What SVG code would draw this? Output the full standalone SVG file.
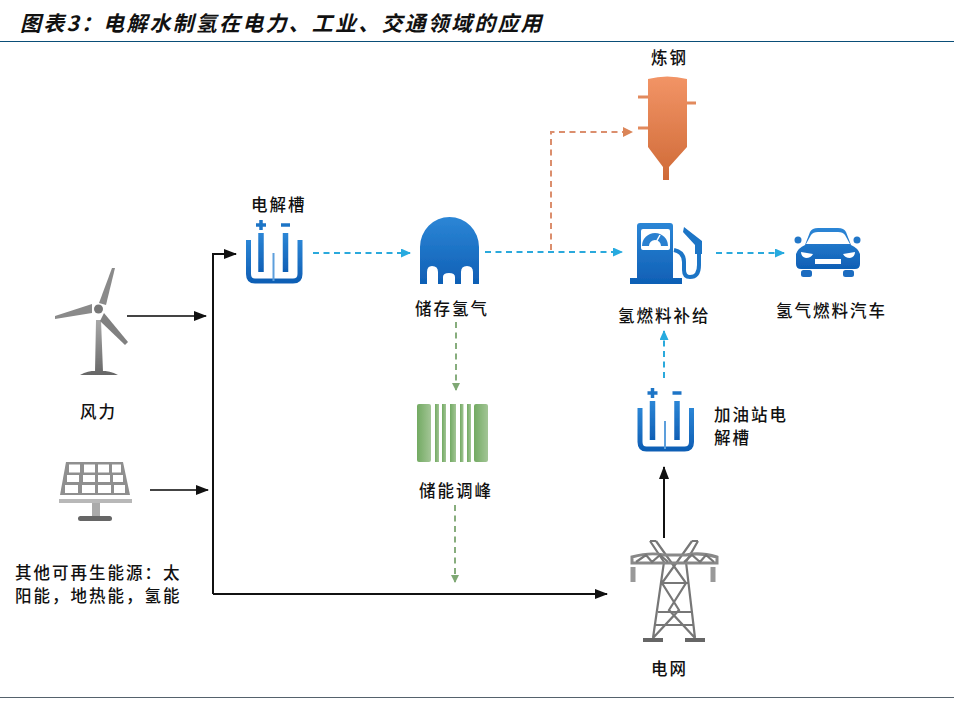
<svg xmlns="http://www.w3.org/2000/svg" width="979" height="704" viewBox="0 0 979 704">
<style>
.t{font-family:"Noto Sans CJK SC","Noto Sans CJK JP",sans-serif;font-size:16.5px;font-weight:500;fill:#111;letter-spacing:2px}
.title{font-family:"Noto Sans CJK SC","Liberation Sans",sans-serif;font-size:21px;font-weight:700;font-style:italic;fill:#111;letter-spacing:2.2px}
.dash{fill:none;stroke-width:2;stroke-dasharray:6 4.5}
.blue{stroke:#2aa9dc}.org{stroke:#db8e6d}.grn{stroke:#87ad7d}
.solid{fill:none;stroke:#111;stroke-width:2}
.src{fill:none;stroke:#444;stroke-width:2}
.wire{fill:none;stroke:#777;stroke-width:2.200}
</style>
<defs>
<linearGradient id="gb" x1="0" y1="0" x2="0" y2="1"><stop offset="0" stop-color="#2c86d6"/><stop offset="1" stop-color="#0f5fb5"/></linearGradient>
<linearGradient id="go" x1="0" y1="0" x2="0" y2="1"><stop offset="0" stop-color="#f29466"/><stop offset="1" stop-color="#cf6a37"/></linearGradient>
<linearGradient id="gg" x1="0" y1="0" x2="1" y2="0"><stop offset="0" stop-color="#72aa62"/><stop offset="1" stop-color="#a3c596"/></linearGradient>
<linearGradient id="gy" x1="0" y1="0" x2="0" y2="1"><stop offset="0" stop-color="#a8a8a8"/><stop offset="1" stop-color="#666"/></linearGradient>
<filter id="s" x="-10%" y="-10%" width="120%" height="120%"><feGaussianBlur stdDeviation="0.7"/></filter>
<marker id="ab" markerWidth="10" markerHeight="9" refX="9" refY="4.500" orient="auto" markerUnits="userSpaceOnUse"><path d="M0 0L10 4.500L0 9z" fill="#27aadf"/></marker>
<marker id="ao" markerWidth="10" markerHeight="10" refX="9" refY="5" orient="auto" markerUnits="userSpaceOnUse"><path d="M0 0L10 5L0 10z" fill="#db8558"/></marker>
<marker id="ag" markerWidth="8" markerHeight="8" refX="7" refY="4" orient="auto" markerUnits="userSpaceOnUse"><path d="M0 0L8 4L0 8z" fill="#7fa874"/></marker>
<marker id="ak" markerWidth="13" markerHeight="10" refX="12" refY="5" orient="auto" markerUnits="userSpaceOnUse"><path d="M0 0L13 5L0 10z" fill="#111"/></marker>
<g id="cell" filter="url(#s)">
<path d="M2.500 15V49Q2.500 56 9 56H47Q54 56 54 49V15" fill="none" stroke="url(#gb)" stroke-width="5"/>
<path d="M27.500 28V56" stroke="#5d9fdc" stroke-width="2"/>
<path d="M15 8V47M39.500 8V47" stroke="url(#gb)" stroke-width="5.500"/>
<path d="M15 -5V5M10 0H20M35 0H44" stroke="#1f74c6" stroke-width="3.500"/>
</g>
</defs>
<rect width="979" height="704" fill="#fff"/>
<g id="title"><text class="title" x="20" y="31">图表3&#xFF1A;<tspan x="103">电解水制氢在电力、工业、交通领域的应用</tspan></text>
<path d="M0 41.500H954" stroke="#0a4e78" stroke-width="1"/></g>
<path id="footer-rule" d="M0 697.500H954" stroke="#55626c" stroke-width="1"/>
<g id="connectors">
<path class="dash blue" d="M313 253H410" marker-end="url(#ab)"/>
<path class="dash blue" d="M485 252H622" marker-end="url(#ab)"/>
<path class="dash blue" d="M716 253H784" marker-end="url(#ab)"/>
<path class="dash blue" d="M664 378V331" marker-end="url(#ab)"/>
<path class="dash org" d="M551 250V132H632" marker-end="url(#ao)"/>
<path class="dash grn" d="M456 322V390" marker-end="url(#ag)"/>
<path class="dash grn" d="M455 505V582" marker-end="url(#ag)"/>
<path class="src" d="M127 316H206" marker-end="url(#ak)"/>
<path class="src" d="M150 490H208" marker-end="url(#ak)"/>
<path class="solid" d="M213 594V254H236" marker-end="url(#ak)"/>
<path class="solid" d="M213 594H607" marker-end="url(#ak)"/>
<path class="solid" d="M664 538V467" marker-end="url(#ak)"/>
</g>
<g id="node-steel"><g filter="url(#s)">
<path d="M648 79Q667 74 687 79V147L669 167V180H663V167L648 147Z" fill="url(#go)"/>
<path d="M638 97H648M687 103H696M638 128H648" stroke="#e28a5d" stroke-width="3"/></g>
<text class="t" x="651" y="64">炼钢</text></g>
<g id="node-cell"><use href="#cell" x="246" y="225"/><text class="t" x="251" y="211">电解槽</text></g>
<g id="node-storage"><g filter="url(#s)">
<path d="M420 284V247A29.500 30 0 0 1 479 247V284H473V272Q473 266 467 266Q461 266 461 272V284H455V277Q455 273 449 273Q443 273 443 277V284H438V272Q438 266 432 266Q427 266 427 272V284Z" fill="url(#gb)"/></g>
<text class="t" x="415" y="315">储存氢气</text></g>
<g id="node-pump"><g filter="url(#s)">
<path d="M640 223H670Q673 223 673 226V278H682V284H630V278H637V226Q637 223 640 223Z" fill="url(#gb)"/>
<rect x="641" y="229" width="29" height="21" rx="2" fill="#fff"/>
<path d="M642 246A13 13 0 0 1 668 246H661A6 6 0 0 0 649 246Z" fill="#2b80d0"/>
<path d="M654 246L660 235" stroke="#fff" stroke-width="1.500"/>
<path d="M674 250Q684 252 684 262V270Q684 277 690 277Q699 277 699 265V245" fill="none" stroke="#1f74c6" stroke-width="4"/>
<path d="M684 227L702 241V254L695 254V245L683 232Z" fill="#1f74c6"/></g>
<text class="t" x="618" y="322">氢燃料补给</text></g>
<g id="node-car"><g filter="url(#s)">
<path d="M796 254Q798 248 805 245L810 232Q812 228 818 228H838Q844 228 846 232L851 245Q858 248 860 254V264Q860 269 855 269H801Q796 269 796 264Z" fill="url(#gb)"/>
<rect x="801" y="270" width="11" height="7" rx="2.500" fill="#1a6cc0"/><rect x="843" y="270" width="11" height="7" rx="2.500" fill="#1a6cc0"/>
<circle cx="798" cy="240" r="3.500" fill="#2077c8"/><circle cx="857" cy="240" r="3.500" fill="#2077c8"/>
<path d="M806 244L811 235Q813 232 818 232H838Q843 232 845 235L850 244Z" fill="#fff"/>
<path d="M801 252L813 254Q811 258 806 258Q801 257 801 252ZM855 252L843 254Q845 258 850 258Q855 257 855 252ZM815 259H841V264H815Z" fill="#fff"/></g>
<text class="t" x="776" y="317">氢气燃料汽车</text></g>
<g id="node-wind"><g filter="url(#s)">
<path d="M96 320L101 320L103 372H95ZM80 375Q90 370 98 371Q108 370 118 375Z" fill="url(#gy)"/>
<circle cx="98.500" cy="309" r="4.500" fill="#777"/>
<path d="M99 303L112 268L115 268L106 305Z" fill="#8a8a8a"/>
<path d="M92 304L55 316L55 319L92 313Z" fill="#8a8a8a"/>
<path d="M104 313L128 342L125 345L100 321Z" fill="#808080"/></g>
<text class="t" x="80" y="418">风力</text></g>
<g id="node-solar"><g filter="url(#s)">
<path d="M66 462H123L130 495H60Z" fill="#8f8f8f"/>
<path d="M69 464.500h11v8h-11zM84 464.500h11v8h-11zM98 464.500h11v8h-11zM112 464.500h9v8h-9zM67 475h12v7h-12zM83 475h12v7h-12zM98 475h12v7h-12zM113 475h10v7h-10zM65 485h13v8h-13zM82 485h13v8h-13zM98 485h13v8h-13zM114 485h11v8h-11z" fill="#fff"/>
<rect x="59" y="499" width="73" height="4" fill="#b8b8b8"/>
<rect x="92" y="503" width="8" height="14" fill="#aaa"/>
<rect x="78" y="516" width="34" height="5" rx="2.500" fill="#666"/></g>
<text class="t" x="15" y="579">其他可再生能源&#xFF1A;太</text>
<text class="t" x="15" y="602">阳能&#xFF0C;地热能&#xFF0C;氢能</text></g>
<g id="node-battery"><g filter="url(#s)" fill="url(#gg)">
<rect x="417" y="404" width="14" height="58" rx="2"/><rect x="435" y="404" width="4" height="58"/><rect x="442" y="404" width="4" height="58"/><rect x="450" y="404" width="6" height="58"/><rect x="460" y="404" width="3.500" height="58"/><rect x="467" y="404" width="4" height="58"/><rect x="474" y="404" width="14" height="58" rx="2"/></g>
<text class="t" x="419" y="497">储能调峰</text></g>
<g id="node-cell2"><use href="#cell" x="637.500" y="393"/>
<text class="t" x="714" y="421">加油站电</text><text class="t" x="714" y="444">解槽</text></g>
<g id="node-grid"><g filter="url(#s)">
<path class="wire" d="M650 541L664 562L653 638M698 541L686 562L695 638M650 541L656 541M698 541L692 541M656 541L686 583L669 610L695 638M692 541L662 583L679 610L653 638M660 583H688M658 612H691M655 625H693M664 563H686"/>
<path d="M632 557Q650 552 664 555H686Q700 552 717 557V563H632Z" fill="none" stroke="#888" stroke-width="3"/>
<path class="wire" d="M636 562L646 555L652 562L660 555L668 562M684 562L692 555L700 562L706 555L714 562"/>
<path d="M633 567V582M713 567V582" stroke="#999" stroke-width="5"/>
<path d="M643 640H663M685 640H705" stroke="#666" stroke-width="4"/></g>
<text class="t" x="651" y="675">电网</text></g>
</svg>
